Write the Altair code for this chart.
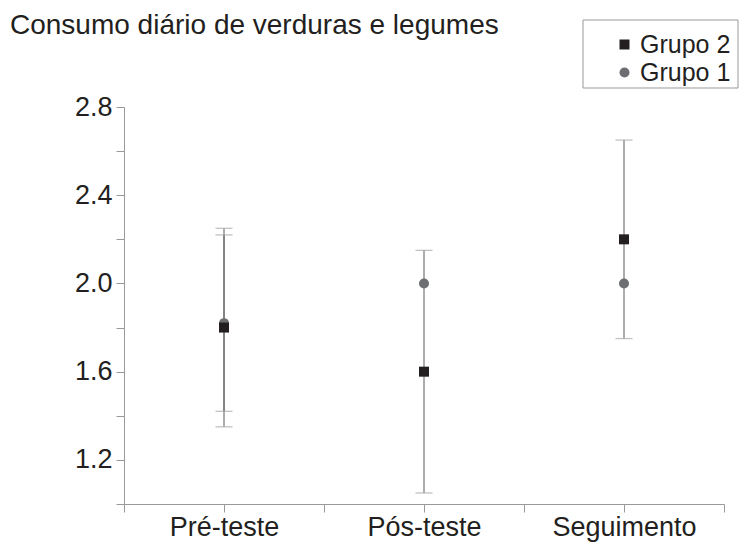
import altair as alt
import pandas as pd

categories = ["Pré-teste", "Pós-teste", "Seguimento"]
groups = ["Grupo 2", "Grupo 1"]

g2_mean = [1.80, 1.60, 2.20]
g2_lo = [1.35, 1.05, 1.75]
g2_hi = [2.25, 2.15, 2.65]

g1_mean = [1.82, 2.00, 2.00]
g1_lo = [1.42, None, None]
g1_hi = [2.22, None, None]

y_ticks = [1.0, 1.2, 1.4, 1.6, 1.8, 2.0, 2.2, 2.4, 2.6, 2.8]
title_text = "Consumo diário de verduras e legumes"

rows = []
for i, c in enumerate(categories):
    rows.append({"cat": c, "idx": i, "grupo": "Grupo 2", "mean": g2_mean[i], "lo": g2_lo[i], "hi": g2_hi[i]})
    rows.append({"cat": c, "idx": i, "grupo": "Grupo 1", "mean": g1_mean[i], "lo": g1_lo[i], "hi": g1_hi[i]})
df = pd.DataFrame(rows)

FONT = "Liberation Sans"
TXT = "#231f20"

label_expr = (
    "datum.value == 0.5 ? 'Pré-teste' : datum.value == 1.5 ? 'Pós-teste' : "
    "datum.value == 2.5 ? 'Seguimento' : ''"
)

x_enc = alt.X(
    "xpos:Q",
    scale=alt.Scale(domain=[0, 3], nice=False, zero=False),
    axis=alt.Axis(
        values=[0, 0.5, 1, 1.5, 2, 2.5, 3],
        labelExpr=label_expr,
        title=None,
        grid=False,
        tickSize=8,
        labelPadding=2,
        labelFontSize=27,
        labelFlush=False,
        labelOverlap=False,
    ),
)
y_scale = alt.Scale(domain=[1.0, 2.8], nice=False, zero=False)
y_axis = alt.Axis(
    values=y_ticks,
    labelExpr="indexof([12,16,20,24,28], round(datum.value*10)) >= 0 ? format(datum.value, '.1f') : ''",
    title=None,
    grid=False,
    tickSize=8,
    labelPadding=4,
    labelFontSize=27,
    labelFlush=False,
    labelOverlap=False,
)

base = alt.Chart(df).transform_calculate(xpos="datum.idx + 0.5")

bars = base.transform_filter("isValid(datum.lo)").mark_rule(color="#5a5a5a", strokeWidth=1).encode(
    x=x_enc,
    y=alt.Y("lo:Q", scale=y_scale, axis=y_axis),
    y2="hi:Q",
)
caps_lo = base.transform_filter("isValid(datum.lo)").mark_tick(
    orient="horizontal", size=17, thickness=1.3, color="#a8a8a8"
).encode(x=x_enc, y=alt.Y("lo:Q", scale=y_scale))
caps_hi = base.transform_filter("isValid(datum.hi)").mark_tick(
    orient="horizontal", size=17, thickness=1.3, color="#a8a8a8"
).encode(x=x_enc, y=alt.Y("hi:Q", scale=y_scale))

points = base.mark_point(filled=True, size=100, opacity=1).encode(
    x=x_enc,
    y=alt.Y("mean:Q", scale=y_scale),
    color=alt.Color(
        "grupo:N",
        scale=alt.Scale(domain=groups, range=["#231f20", "#6d6e71"]),
        legend=alt.Legend(
            title=None,
            orient="none",
            legendX=488,
            legendY=-75,
            padding=0,
            symbolOffset=0,
            labelFontSize=25,
            labelFont=FONT,
            labelColor=TXT,
            symbolSize=100,
            rowPadding=2,
            labelOffset=3,
        ),
    ),
    shape=alt.Shape(
        "grupo:N",
        scale=alt.Scale(domain=groups, range=["square", "circle"]),
        legend=alt.Legend(title=None, orient="none", legendX=488, legendY=-75),
    ),
    order=alt.Order("grupo:N", sort="ascending"),
)

legend_box = alt.Chart(pd.DataFrame({"k": [0]})).mark_rect(
    fill=None, stroke="#999999", strokeWidth=1
).encode(x=alt.value(459), x2=alt.value(614), y=alt.value(-87), y2=alt.value(-19))

title = alt.Chart(pd.DataFrame({"t": [title_text]})).mark_text(
    align="left", baseline="alphabetic", fontSize=28, font=FONT, color=TXT
).encode(text="t:N", x=alt.value(-114), y=alt.value(-73))

chart = (
    alt.layer(bars, caps_lo, caps_hi, points, legend_box, title)
    .properties(
        width=600,
        height=397,
        autosize=alt.AutoSizeParams(type="none"),
        padding={"left": 116, "top": 99, "right": 15, "bottom": 40},
        background="white",
    )
    .configure_view(stroke=None)
    .configure_axis(
        domainColor="#999999",
        tickColor="#999999",
        labelColor=TXT,
        labelFont=FONT,
    )
)

chart.save("out.html", embed_options={"renderer": "svg", "actions": False})
